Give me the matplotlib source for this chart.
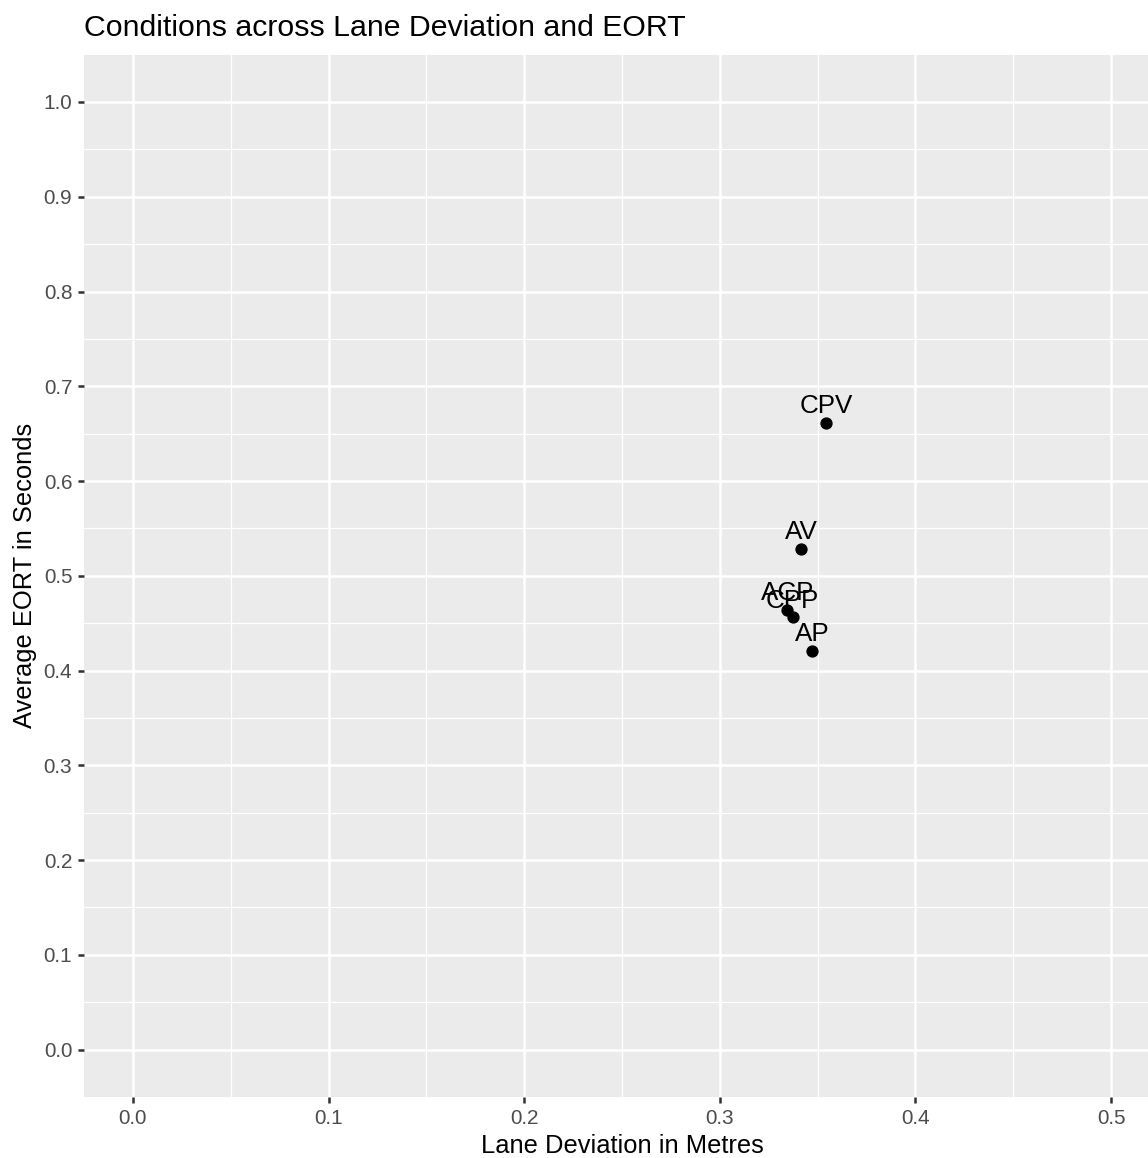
import numpy as np
import matplotlib.pyplot as plt

plt.rcParams['font.family'] = ['Liberation Sans', 'DejaVu Sans']

conditions = ["CPV", "AV", "ACP", "CPP", "AP"]
lane_dev = [0.3543, 0.3415, 0.3345, 0.3372, 0.3471]   # metres
eort = [0.6614, 0.5285, 0.4640, 0.4560, 0.4210]       # seconds

DPI = 170
fig = plt.figure(figsize=(1148 / DPI, 1158 / DPI), dpi=DPI)
# panel runs a bit past the right edge, as in the reference
ax = fig.add_axes([84 / 1148, 61 / 1158, (1160 - 84) / 1148, (1097 - 54.6) / 1158])

ax.set_facecolor("#EBEBEB")
for s in ax.spines.values():
    s.set_visible(False)

ax.set_xlim(-0.025, 0.525)
ax.set_ylim(-0.05, 1.05)
ax.set_xticks(np.arange(0, 0.51, 0.1))
ax.set_xticks(np.arange(0.05, 0.51, 0.1), minor=True)
ax.set_yticks(np.arange(0, 1.01, 0.1))
ax.set_yticks(np.arange(0.05, 1.01, 0.1), minor=True)
ax.set_xticklabels(["%.1f" % v for v in np.arange(0, 0.51, 0.1)])
ax.set_yticklabels(["%.1f" % v for v in np.arange(0, 1.01, 0.1)])

ax.grid(which="major", color="white", linewidth=1.07)
ax.grid(which="minor", color="white", linewidth=0.53)
ax.set_axisbelow(True)
ax.tick_params(which="major", length=2.75, width=1.07, color="#333333",
               labelsize=8.8, labelcolor="#4D4D4D", pad=2.2)
ax.tick_params(which="minor", length=0)

ax.plot(lane_dev, eort, "o", color="black", markersize=4.2, zorder=3)
# labels overlap for ACP/CPP in the original too
for name, x, y in zip(conditions, lane_dev, eort):
    ax.annotate(name, (x, y), xytext=(0, 4.2), textcoords="offset points",
                ha="center", va="baseline", fontsize=11, color="black", zorder=4)

ax.set_xlabel("Lane Deviation in Metres", fontsize=10.8, labelpad=2.75)
ax.set_ylabel("Average EORT in Seconds", fontsize=10.8, labelpad=2.75)
fig.text(84 / 1148, 1 - 36 / 1158, "Conditions across Lane Deviation and EORT",
         fontsize=12.8, ha="left", va="baseline")

fig.savefig("out.png", dpi=DPI)
